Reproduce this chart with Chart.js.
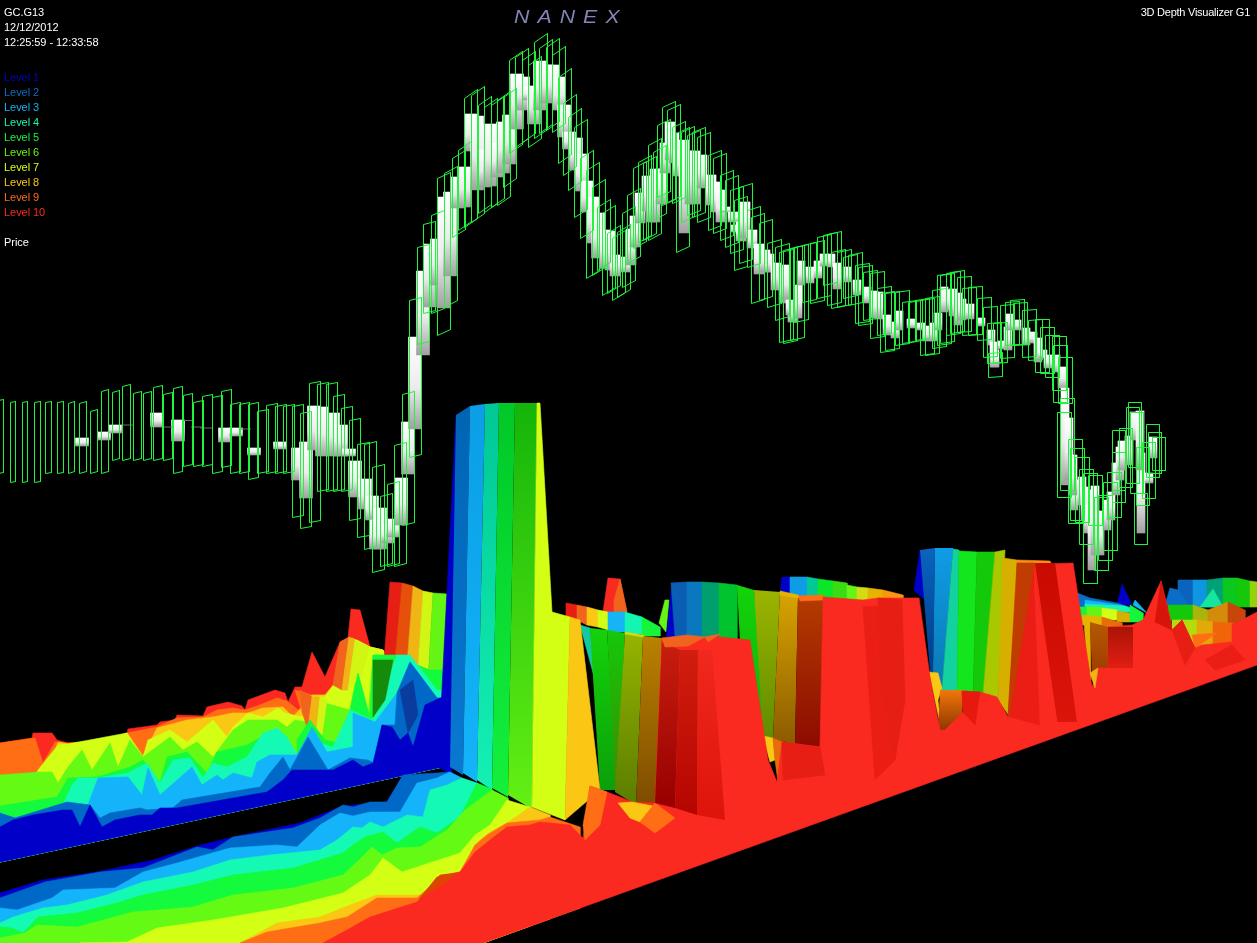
<!DOCTYPE html>
<html><head><meta charset="utf-8">
<style>
html,body{margin:0;padding:0;background:#000;overflow:hidden;width:1257px;height:943px}
#wrap{position:relative;width:1257px;height:943px}
canvas{position:absolute;left:0;top:0;display:block}
.t{position:absolute;font:11px/15px "Liberation Sans",Arial,sans-serif;color:#fff;white-space:nowrap;letter-spacing:-.05px}
#brand{position:absolute;left:514px;top:6px;font:italic 19px/22px "Liberation Sans",Arial,sans-serif;color:#8484b8;letter-spacing:7.2px;transform:scaleX(1.12);transform-origin:left center}
</style>
<script src="https://cdn.jsdelivr.net/npm/chart.js@4/dist/chart.umd.min.js"></script>
</head><body><div id="wrap"><canvas id="c" width="1257" height="943"></canvas><div id="brand">NANEX</div></div>
<script>
const headerLines=["GC.G13","12/12/2012","12:25:59 - 12:33:58"];
const rightLabel="3D Depth Visualizer G1";
const levelNames=["Level 1","Level 2","Level 3","Level 4","Level 5","Level 6","Level 7","Level 8","Level 9","Level 10"];
const levelColors=["#0000c8","#0a6ec8","#14b4f5","#14f5b4","#14f53c","#64f514","#d2ff14","#fac814","#ff6e14","#fa2a20"];
const priceLabel="Price";

/* ---- price: boxes (range outline) ---- */
const boxX=[-2,10,22,34,45,57,68,79,90,101,
112,122,133,143,153,163,173,183,193,202,
212,221,230,239,248,257,266,275,283,292,
300,309,317,326,333,341,349,357,364,372,
380,387,394,402,409,417,423,431,437,444,
452,458,464,471,478,484,491,497,503,509,
515,522,528,534,539,546,552,558,563,568,
574,580,586,592,597,602,607,612,617,622,
627,633,638,643,648,653,657,662,667,672,
676,681,687,692,697,708,713,720,725,730,
734,739,747,751,759,767,775,779,783,790,
794,802,810,817,823,827,831,837,843,848,
855,858,863,870,877,880,885,895,902,908,
915,920,925,932,937,940,946,950,957,962,
968,977,983,987,988,993,1000,1005,1010,1013,
1022,1028,1035,1040,1045,1052,1053,1058,1057,1060,
1068,1070,1075,1079,1083,1088,1094,1098,1103,1107,
1112,1112,1119,1126,1128,1130,1134,1136,1142,1146,
1148,1152];
const boxHigh=[400,402,402,402,402,402,403,403,411,391,
392,386,393,393,387,394,388,395,402,396,
397,391,404,404,404,411,405,406,406,406,
413,383,384,384,396,408,420,444,444,467,
496,484,445,394,300,247,224,215,178,173,
158,150,98,95,105,107,105,100,97,60,
57,60,65,42,48,47,55,77,103,117,
127,158,170,187,207,213,233,238,232,213,
195,168,162,163,145,152,125,107,110,127,
133,132,135,132,137,155,158,175,180,190,
200,187,210,217,223,243,247,252,250,248,
247,245,243,237,235,234,252,252,257,255,
265,267,272,273,288,293,293,292,302,302,
300,300,298,290,275,275,273,272,277,288,
287,298,307,323,353,323,305,302,300,303,
310,320,319,327,335,336,345,357,412,398,
439,448,457,469,473,475,497,495,482,472,
452,430,428,407,402,412,493,447,442,424,
432,437];
const boxLow=[473,482,482,482,473,473,473,473,473,473,
460,460,460,460,460,460,473,466,466,466,
473,467,473,473,479,473,473,473,473,517,
528,522,491,491,491,491,520,537,549,572,
566,566,566,525,457,344,313,313,335,307,
237,230,227,222,213,212,207,205,187,153,
147,142,147,138,133,130,132,163,175,190,
217,238,278,275,270,295,293,300,297,287,
263,248,242,240,240,220,197,205,202,203,
252,222,215,217,222,230,233,240,247,253,
270,263,267,303,300,307,320,342,343,340,
322,302,303,298,285,305,308,307,298,305,
323,325,320,338,335,352,350,345,343,342,
340,355,355,348,345,343,335,333,332,335,
335,340,357,363,377,363,358,345,345,345,
357,360,372,373,377,390,402,403,497,490,
523,520,522,544,583,525,570,560,550,517,
502,490,487,483,467,493,544,505,498,477,
473,470];

/* ---- price: white bodies ---- */
const bodyX=[82,104,115,157,178,225,236,254,280,298,
306,314,322,333,341,349,355,365,372,380,
376,388,393,401,408,415,423,430,437,444,
450,457,464,471,477,484,490,497,503,509,
517,523,529,534,540,547,553,559,564,569,
576,582,587,593,598,605,610,615,625,631,
635,640,647,651,655,661,665,670,674,678,
684,690,695,702,711,716,721,725,733,736,
741,745,752,759,765,769,776,783,792,785,
790,794,798,801,810,818,824,831,837,847,
857,867,874,879,887,895,899,911,921,927,
934,938,944,950,953,958,962,970,981,991,
994,995,1002,1008,1010,1017,1026,1033,1038,1043,
1048,1056,1062,1065,1069,1074,1073,1082,1085,1088,
1092,1095,1100,1107,1111,1116,1120,1122,1129,1134,
1141,1140,1149,1153];
const bodyTop=[438,432,425,413,420,428,428,448,442,448,
442,406,407,413,425,449,461,479,496,508,
520,525,519,478,422,337,271,244,239,197,
192,177,167,114,116,150,124,143,122,115,
74,77,87,86,61,65,65,77,105,132,
138,154,181,197,213,230,231,255,257,229,
216,193,176,182,169,169,143,122,133,150,
140,151,151,155,175,182,190,207,212,225,
222,202,230,244,250,254,263,273,304,265,
300,302,285,261,267,261,254,254,263,267,
280,287,291,292,315,322,311,319,323,326,
323,313,287,290,289,293,299,304,318,330,
342,350,341,327,314,320,328,332,338,350,
355,355,367,388,418,480,455,477,487,505,
490,486,511,500,492,463,447,441,436,412,
453,411,473,437];
const bodyBottom=[446,440,433,427,441,442,436,455,449,480,
498,450,456,456,456,456,497,509,520,549,
549,543,537,525,474,429,355,307,285,308,
276,208,207,151,190,187,186,177,173,164,
129,110,100,124,110,103,102,110,137,149,
170,191,212,243,258,268,270,276,272,265,
247,223,211,222,222,204,173,160,163,176,
233,204,204,188,205,212,222,212,222,232,
241,238,248,274,272,272,290,303,322,300,
315,322,318,285,283,278,266,267,289,282,
295,303,318,319,335,338,330,328,330,341,
341,330,312,310,316,325,320,319,326,345,
367,367,349,350,330,330,345,343,362,358,
368,372,388,485,480,510,495,505,520,533,
570,555,555,530,520,495,480,470,465,440,
533,470,483,458];
const flatX=[128,167,188,197,206,245];
const flatY=[425,427,420.5,427,428,429];

/* ---- depth surface, front bank, left (top edge of each level) ---- */
const front1=[0,893,43,880,97,872,153,860,197,846,233,837,300,823,320,815,343,806,387,802,403,775,420,776,433,780,447,772];
const front2=[0,898,45,882,100,872,143,868,197,847,213,850,233,837,293,828,320,818,343,805,353,807,370,802,387,802,403,775,437,773,450,772];
const front3=[0,908,17,910,52,898,63,890,115,888,143,872,177,863,230,848,277,845,297,847,320,825,340,813,353,816,370,812,400,812,417,783,437,778,450,772,462,778];
const front4=[0,923,13,917,43,908,67,905,107,895,143,882,193,872,230,860,270,855,320,850,337,840,353,827,362,828,370,822,383,827,407,815,423,817,430,790,447,785,462,778,477,783];
const front5=[0,927,12,928,23,933,38,917,77,913,117,903,143,895,193,885,233,875,293,868,343,853,353,845,365,837,383,832,397,843,420,827,437,833,460,817,477,783,492,789];
const front6=[0,938,25,933,37,925,77,927,133,912,193,907,233,895,293,888,343,875,362,857,372,847,382,855,397,848,420,847,447,830,465,810,492,790,508,798];
const front7=[80,943,127,942,157,928,213,920,283,908,343,893,370,875,383,858,402,872,460,853,475,835,490,825,507,800,530,807];
const front8=[240,943,277,923,320,917,350,905,377,895,423,895,460,872,480,840,490,832,507,823,530,807,550,815];
const front9=[240,943,267,932,320,923,347,917,377,898,417,898,443,875,460,872,475,845,487,835,507,823,540,820,550,817,580,827];
const front10=[323,943,347,930,370,917,417,902,437,877,460,872,475,852,490,840,507,827,530,825,540,822,570,825,583,838,590,786,607,792,620,797,632,802,655,803,662,638,700,640,710,636,750,640,768,760,777,782,782,742,820,747,823,597,863,600,878,598,919,598,930,677,940,730,945,730,963,712,962,691,980,692,997,697,1008,717,1018,565,1073,563,1092,687,1098,668,1108,668,1108,627,1132,625,1143,620,1161,581,1170,617,1172,630,1182,620,1195,648,1202,645,1232,642,1232,625,1257,612,1257,665,483,943];

/* ---- depth surface, back bank, left ---- */
const backClose=[447,766,0,862];
const back10=[0,743,32,738,33,733,52,733,57,740,68,743,88,743,110,740,127,733,128,729,157,725,160,722,175,720,177,715,203,716,207,707,228,702,242,706,245,710,248,700,275,690,285,693,288,702,295,687,302,687,312,652,325,677,340,642,348,638,351,609,360,610,370,647,383,650];
const back9=[0,743,35,738,43,763,55,742,68,743,110,740,127,733,157,727,177,718,203,717,217,710,233,708,245,710,257,706,277,698,287,701,302,713,295,690,312,695,325,695,335,683,345,640,352,638,370,647,383,650];
const back8=[50,767,58,742,68,744,110,739,127,733,143,756,157,728,187,720,213,717,233,713,248,713,263,708,283,707,293,717,312,695,325,695,335,683,347,640,352,638,370,647,383,650];
const back7=[38,770,58,745,68,744,127,733,143,757,148,740,170,730,187,742,213,720,227,737,233,727,248,713,263,717,278,708,285,713,302,717,312,697,325,697,335,683,347,640,357,640,370,647,383,650];
const back6=[0,775,40,772,52,772,58,783,68,767,82,750,92,770,110,743,118,767,130,740,143,757,170,737,183,750,197,742,213,757,233,730,248,720,263,720,277,720,287,727,295,720,312,723,325,703,350,710,357,673,368,717,373,655];
const back5=[0,806,57,797,68,778,97,777,130,767,143,760,160,782,167,757,187,752,207,773,217,752,247,745,265,735,270,733,287,740,297,755,297,740,310,720,325,740,340,743,350,710,358,673,370,717,373,655,397,655,405,660,430,670,447,670];
const back4=[0,813,13,818,62,807,72,785,78,778,97,778,128,773,147,763,160,783,173,760,190,758,203,778,213,763,227,767,247,757,263,733,277,728,287,737,297,755,312,730,320,743,333,747,350,710,373,720,397,655,410,655,437,690,447,690];
const back3=[0,818,13,818,63,807,88,805,98,778,128,777,142,795,148,768,160,795,192,767,202,785,217,775,223,780,233,773,252,778,257,762,270,755,283,755,297,755,312,727,327,752,353,747,353,713,375,722,397,693,410,662,437,698,447,698];
const back2=[0,813,15,818,67,802,90,805,100,818,110,813,140,808,147,810,173,808,182,800,260,787,270,773,283,757,290,770,308,737,328,770,350,758,367,760,375,763,382,725,395,725,397,693,410,662,437,698,447,698];
const back1=[0,827,13,820,33,815,63,810,72,810,80,827,90,805,102,827,115,820,140,815,152,815,160,808,177,808,267,792,283,780,292,770,333,770,353,760,363,767,373,763,382,725,392,727,400,740,408,733,413,747,425,705,440,698,447,698];

/* ---- wall strips: [colour or top/bottom colours, outline] in painter's order ---- */
const farRight=[
 ["#0a64be",[1178,580,1193,580,1193,607,1178,607]],["#0f96e1",[1193,580,1207,580,1207,607,1193,607]],
 ["#00a078",[1207,580,1223,578,1223,607,1207,607]],["#0ac81e",[1223,578,1237,578,1237,607,1223,607]],
 ["#14c80a",[1237,578,1250,581,1250,607,1237,607]],["#96d20a",[1250,581,1257,582,1257,607,1250,607]],
 ["#14e6a0",[1200,607,1213,589,1223,607]],["#0000c8",[1117,605,1122,584,1132,605]],["#14b4f5",[1133,605,1135,600,1147,613]],
 ["#0a6ec8",[1165,605,1170,588,1178,590,1190,607]],
 ["#0a6ec8",[1077,593,1090,598,1117,603,1135,609,1077,609]],["#14b4f5",[1085,600,1120,605,1140,612,1085,612]],
 ["#14f5b4",[1085,604,1125,606,1140,612,1085,612]],
 ["#14f53c",[1078,607,1087,607,1087,620,1078,620]],["#64f514",[1087,607,1102,607,1102,617,1087,617]],
 ["#d2ff14",[1102,608,1117,610,1117,620,1102,620]],["#d7af00",[1117,611,1130,613,1130,622,1117,622]],
 ["#14f53c",[1130,605,1143,613,1143,622,1130,622]],
 ["#e6b400",[1082,615,1102,617,1102,625,1082,625]],["#e66e0a",[1102,617,1122,623,1122,632,1102,632]],
 ["#14c80a",[1168,605,1193,605,1193,620,1168,620]],["#aab40a",[1193,605,1208,610,1208,622,1193,622]],
 ["#d28c0a",[1208,610,1228,602,1228,625,1208,622]],["#c8460a",[1228,602,1245,610,1245,628,1228,628]],
 ["#b4dc0a",[1172,620,1197,620,1197,655,1172,655]],["#e1aa0a",[1197,620,1213,622,1213,655,1197,655]],
 ["#f0640a",[1213,622,1232,623,1232,655,1213,655]],["#ff6e14",[1192,635,1217,633,1195,648]],
 ["#e6b400",[1084,622,1090,622,1091,680,1088,680]],[["#b45a00","#a03c00"],[1090,622,1108,627,1108,668,1098,668,1092,673]]
];
const farMiddle=[
 ["#0000c8",[779,600,782,577,790,577,790,600]],["#0f9ce6",[790,577,807,577,807,600,790,600]],
 ["#00c896",[807,577,818,579,818,600,807,600]],["#0ae628",[818,579,833,581,833,600,818,600]],
 ["#3cdc14",[833,581,847,583,847,600,833,600]],["#64f514",[847,585,857,587,857,600,847,600]],
 ["#d2dc14",[857,587,868,588,868,600,857,600]],["#e6b400",[868,588,883,590,883,600,868,600]],
 ["#fa9614",[883,590,903,595,903,605,883,605]]
];
const hump=[
 ["#fa2a20",[603,612,608,578,620,579,627,612]],["#f0641e",[614,600,620,579,627,612,614,612]],
 ["#e61e14",[566,603,577,605,577,620,566,617]],["#f0641e",[577,605,587,607,587,625,577,620]],
 ["#fac814",[587,607,598,610,598,627,587,625]],["#d2ff14",[598,610,608,612,608,630,598,627]],
 ["#14b4f5",[608,612,625,612,625,632,608,632]],["#14f5b4",[625,612,642,617,642,634,625,634]],
 ["#14f53c",[642,617,660,627,660,636,642,636]],
 ["#64f514",[659,623,665,600,669,600,666,632]],["#0000c8",[666,640,672,583,687,583,683,640]]
];
const midWall=[
 ["#0a5fb4",[671,583,687,582,687,650,676,650]],["#0a78be",[687,582,702,582,702,650,687,650]],
 ["#00a06e",[702,582,719,583,719,650,702,650]],["#00c32d",[719,583,737,585,737,650,719,650]],
 [["#14d20a","#0ab40a"],[737,585,754,590,770,738,745,738]],[["#9cb400","#5f8c00"],[754,590,780,592,773,738,763,736]],
 [["#d7a500","#8c5a00"],[780,592,798,596,795,745,773,738]],[["#b43c00","#8c0a00"],[798,596,823,597,822,750,795,745]],
 ["#ff6e14",[798,596,823,595,823,600,800,601]],["#e6b400",[780,591,798,595,798,598,780,595]],
 ["#fac814",[763,736,773,738,775,760,770,762]],["#e66e0a",[773,738,784,742,778,782,775,760]],
 ["#14c8a0",[580,625,590,628,595,680]],[["#14d20a","#0aa00a"],[590,628,607,630,617,790,600,790]],
 [["#14c80a","#3c8c00"],[607,630,625,633,617,792,615,790]],[["#96b400","#5a7d00"],[625,633,643,636,636,805,615,792]],
 [["#b98200","#7d4b00"],[643,636,662,638,656,808,636,805]],["#d2dc14",[625,632,643,635,643,637,625,634]]
];
const rightWall=[
 ["#0000c8",[914,590,920,550,925,600]],[["#0a64be","#003c8c"],[920,550,935,548,933,672,930,672]],
 [["#0f9ce6","#0a78b4"],[935,548,953,548,942,690,933,672]],["#14d2a0",[953,549,959,550,957,690,942,690]],
 ["#14e61e",[959,551,977,552,973,695,957,690]],["#14c80a",[977,552,995,552,983,695,973,695]],
 ["#aac800",[995,552,1005,550,998,700,983,695]],["#d7af00",[1003,558,1017,560,1012,720,998,700]],
 ["#fa8c14",[1017,560,1050,561,1052,565,1017,565]],
 ["#fac814",[929,672,938,673,942,688,938,700,941,728,936,705]],[["#f0780a","#8c3200"],[940,690,963,690,962,715,945,732,938,730]]
];
const leftWall=[
 ["#e61e14",[390,582,402,583,395,660,384,660]],["#e6500a",[402,583,413,586,407,665,395,660]],
 ["#f0b414",[413,586,423,591,418,665,407,665]],["#d2f514",[423,591,433,593,428,680,418,665]],
 ["#64f514",[433,593,447,594,442,705,428,680]],
 ["#f0641e",[340,642,349,637,342,690,333,685]],["#f0b414",[349,637,355,640,348,690,342,690]],["#d2f514",[355,640,369,647,362,675,348,690]],
 ["#f0641e",[300,690,312,697,308,730,302,712]],["#f0b414",[312,697,320,697,316,735,308,730]],["#d2f514",[320,697,327,700,322,735,316,735]]
];
const tower=[
 ["#0000c8",[456,415,462,413,452,775,438,767]],[["#0064b4","#0a78d2"],[456,415,470,406,463,775,450,767]],
 [["#0a9ee6","#14b4fa"],[470,406,485,404,477,782,463,773]],[["#00c896","#14f0b4"],[485,404,499,403,492,790,477,780]],
 [["#00c828","#14f03c"],[499,403,515,403,508,797,492,788]],[["#14b40a","#64f014"],[515,403,537,403,532,809,508,795]],
 ["#d2ff14",[537,403,540,403,552,612,570,617,565,820,532,807]],["#fac814",[570,617,580,620,600,790,565,820]]
];
const shades=[
 ["#ff6e14",[590,786,607,792,600,825,585,840,583,825]],["#fac814",[618,803,632,802,653,806,640,822,630,818]],
 ["#ff6e14",[640,822,655,803,675,818,655,833]],
 ["#dc4600",[420,898,440,875,458,873,437,888]],
 [["#c81e0f","#960000"],[655,803,662,642,680,650,675,808]],[["#d21e0f","#b40500"],[675,808,680,650,698,650,697,815]],
 [["#f0281e","#dc140a"],[697,815,698,650,712,650,725,820]],["#f0641e",[662,638,687,635,705,637,688,646,665,647]],
 ["#f0641e",[705,637,720,634,708,642]],["#e61e14",[782,742,820,747,825,775,783,780]],
 ["#eb1e14",[863,607,878,606,895,760,875,780]],["#e61e14",[878,598,902,600,905,700,895,760,880,680]],
 ["#c03c00",[1017,563,1035,563,1010,717,1008,717]],[["#c80a00","#dc140a"],[1035,563,1055,563,1077,722,1057,722]],
 ["#ea1e14",[1010,717,1034,569,1046,645,1040,725]],["#fa2a20",[1034,569,1057,722,1040,725]],
 ["#e6190f",[962,691,980,692,975,725,963,712]],["#d7140a",[1161,581,1172,630,1155,622]],
 ["#f0b414",[1090,673,1098,668,1095,688]],[["#aa1405","#e11e14"],[1108,627,1133,627,1133,668,1108,668]],
 ["#e61e14",[1172,630,1182,620,1195,648,1185,665]],["#ea1e14",[1205,660,1232,645,1245,660,1215,670]]
];

/* ---- helpers ---- */
const pts=f=>{const o=[];for(let i=0;i<f.length;i+=2)o.push({x:f[i],y:f[i+1]});o.push({x:f[0],y:f[1]});return o;};
const datasets=[];
const addPoly=(color,flat)=>datasets.push({type:"line",data:pts(flat),polyColor:color,backgroundColor:"rgba(0,0,0,0)",borderColor:Array.isArray(color)?"rgba(0,0,0,0)":color,borderWidth:0.6,pointRadius:0,fill:false,tension:0});
const edge=x=>x>483?943-0.359*(x-483):943;
const closeFront=c=>{const lx=c[c.length-2],fx=c[0];return c.concat([lx,edge(lx),483,943,fx,943]);};
const surfaceColor=["#0000c8","#0069c8","#14b4fa","#14fab4","#14fa3c","#64fa14","#d2ff14","#fac814","#ff6e14","#fa2a20"];

farRight.forEach(p=>addPoly(p[0],p[1]));
farMiddle.forEach(p=>addPoly(p[0],p[1]));
hump.forEach(p=>addPoly(p[0],p[1]));
midWall.forEach(p=>addPoly(p[0],p[1]));
rightWall.forEach(p=>addPoly(p[0],p[1]));
[back10,back9,back8,back7,back6].forEach((c,i)=>addPoly(surfaceColor[9-i],c.concat(backClose)));
leftWall.forEach(p=>addPoly(p[0],p[1]));
[back5,back4,back3,back2,back1].forEach((c,i)=>addPoly(surfaceColor[4-i],c.concat(backClose)));
addPoly("#148c0a",[373,660,393,660,385,700,373,717]);
addPoly("#0a3ca0",[400,690,413,680,418,715,408,733]);
tower.forEach(p=>addPoly(p[0],p[1]));
[front1,front2,front3,front4,front5,front6,front7,front8,front9].forEach((c,i)=>addPoly(surfaceColor[i],closeFront(c)));
addPoly(surfaceColor[9],front10);
shades.forEach(p=>addPoly(p[0],p[1]));

/* price bodies as floating bars, split by on-screen thickness */
const bodyGroups=[[-1e4,600,13],[600,780,10],[780,1e4,8]];
bodyGroups.forEach(g=>{
  const d=[];bodyX.forEach((x,i)=>{if(x>=g[0]&&x<g[1])d.push({x:x,y:[bodyTop[i],bodyBottom[i]]});});
  datasets.push({type:"bar",data:d,barThickness:g[2],grouped:false,borderWidth:0,
    backgroundColor:c=>{
      if(!c.raw||!Array.isArray(c.raw.y))return "#ddd";
      const s=c.chart.scales.y,a=s.getPixelForValue(c.raw.y[0]),b=s.getPixelForValue(c.raw.y[1]);
      if(!isFinite(a)||!isFinite(b))return "#ddd";
      const g2=c.chart.ctx.createLinearGradient(0,a,0,b);
      g2.addColorStop(0,"#ffffff");g2.addColorStop(.55,"#ececec");g2.addColorStop(1,"#a0a0a0");return g2;
    }});
});
const flats=[];flatX.forEach((x,i)=>{flats.push({x:x-6,y:flatY[i]},{x:x+6,y:flatY[i]},{x:NaN,y:NaN});});
datasets.push({type:"line",data:flats,borderColor:"#6a6a6a",borderWidth:1,pointRadius:0,fill:false,spanGaps:false,tension:0});

/* price range outlines: perspective only changes their drawn width and lean */
const widthStops=[[0,5],[100,7],[200,10],[400,12],[460,13],[1060,14],[1160,13]];
const leanStops=[[0,1],[130,2],[300,2],[420,3],[460,9],[550,9],[640,7],[700,5],[800,3],[900,2],[1000,1],[1060,0]];
const look=(t,x)=>{if(x<=t[0][0])return t[0][1];for(let i=1;i<t.length;i++)if(x<=t[i][0]){const a=t[i-1],b=t[i];return a[1]+(b[1]-a[1])*(x-a[0])/(b[0]-a[0]);}return t[t.length-1][1];};
const outlines=[];
boxX.forEach((x,i)=>{
  const w=Math.round(look(widthStops,x)),s=Math.round(look(leanStops,x)),L=x+.5,R=x+w+.5,T=boxHigh[i]+.5,B=boxLow[i]+.5;
  outlines.push({x:L,y:T},{x:R,y:T-s},{x:R,y:B-s},{x:L,y:B},{x:L,y:T},{x:NaN,y:NaN});
});
datasets.push({type:"line",data:outlines,borderColor:"#1ef53c",borderWidth:1,pointRadius:0,fill:false,spanGaps:false,tension:0});

datasets.forEach((d,i)=>{d.order=datasets.length-i;});

const polygonFill={id:"polygonFill",beforeDatasetDraw(chart,args){
  const ds=chart.data.datasets[args.index];if(!ds.polyColor)return;
  const p=args.meta.data,ctx=chart.ctx;ctx.save();ctx.beginPath();
  p.forEach((q,i)=>i?ctx.lineTo(q.x,q.y):ctx.moveTo(q.x,q.y));
  ctx.closePath();
  if(Array.isArray(ds.polyColor)){
    const ys=p.map(q=>q.y),g=ctx.createLinearGradient(0,Math.min(...ys),0,Math.max(...ys));
    g.addColorStop(0,ds.polyColor[0]);g.addColorStop(1,ds.polyColor[1]);ctx.fillStyle=g;
  } else ctx.fillStyle=ds.polyColor;
  ctx.fill();ctx.restore();
}};
const blackBg={id:"blackBg",beforeDraw(c){c.ctx.save();c.ctx.fillStyle="#000";c.ctx.fillRect(0,0,c.width,c.height);c.ctx.restore();}};

new Chart(document.getElementById("c"),{
  type:"line",data:{datasets:datasets},plugins:[blackBg,polygonFill],
  options:{responsive:false,animation:false,devicePixelRatio:1,
    layout:{padding:0},events:[],
    plugins:{legend:{display:false},tooltip:{enabled:false},title:{display:false}},
    scales:{x:{type:"linear",min:0,max:1257,offset:false,display:false},y:{type:"linear",min:0,max:943,reverse:true,display:false}}}
});

/* text */
const wrap=document.getElementById("wrap");
const label=(txt,x,y,col,right,sp)=>{const e=document.createElement("div");e.className="t";e.textContent=txt;e.style.top=y+"px";if(col)e.style.color=col;if(sp)e.style.letterSpacing=sp;if(right)e.style.right=right+"px";else e.style.left=x+"px";wrap.appendChild(e);};
headerLines.forEach((t,i)=>label(t,4,5+15*i));
levelNames.forEach((t,i)=>label(t,4,70+15*i,levelColors[i]));
label(priceLabel,4,235);
label(rightLabel,0,5,null,7,"-.25px");
</script></body></html>
